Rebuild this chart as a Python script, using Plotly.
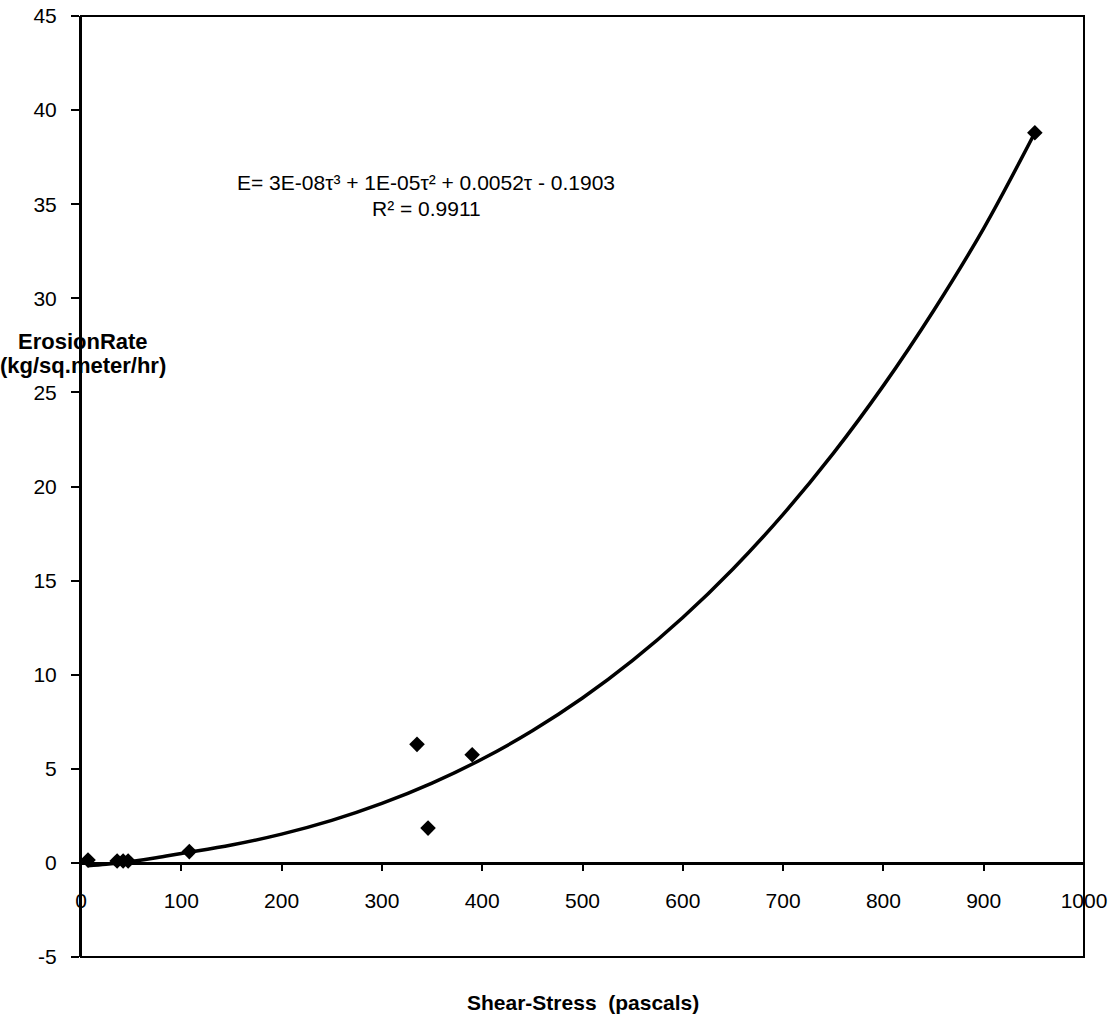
import plotly.graph_objects as go

# Measured data (shear stress in pascals, erosion rate in kg/m^2/hr)
shear_stress = [7, 36, 42, 47, 108, 335, 346, 390, 951]
erosion_rate = [0.15, 0.1, 0.1, 0.1, 0.6, 6.3, 1.85, 5.75, 38.8]

# Polynomial trendline
trend_tau = [7, 25, 50, 75, 100, 150, 200, 250, 300, 350, 400, 450, 500,
             550, 600, 650, 700, 750, 800, 850, 900, 951]
trend_E = [-0.15, -0.07, 0.08, 0.27, 0.5, 0.95, 1.53, 2.26, 3.16, 4.24, 5.52,
           7.02, 8.76, 10.76, 13.04, 15.62, 18.52, 21.76, 25.36, 29.34, 33.72, 38.8]

x_ticks = [0, 100, 200, 300, 400, 500, 600, 700, 800, 900, 1000]
y_ticks = [-5, 0, 5, 10, 15, 20, 25, 30, 35, 40, 45]

equation_text = "E= 3E-08τ³ + 1E-05τ² + 0.0052τ - 0.1903"
r2_text = "R² = 0.9911"
y_title_lines = ["ErosionRate", "(kg/sq.meter/hr)"]
x_title = "Shear-Stress  (pascals)"

FONT = "Liberation Sans, Arial, sans-serif"

# pixel helpers for annotation placement (plot area: x 81..1084, y 16..957)
def px_to_x(px):
    return (px - 81) / 1003 * 1000

def py_to_y(py):
    return 45 - (py - 16) / 941 * 50

fig = go.Figure()
fig.add_trace(go.Scatter(
    x=trend_tau, y=trend_E, mode="lines", line_shape="spline",
    line=dict(color="black", width=3.5), hoverinfo="skip", showlegend=False))
fig.add_trace(go.Scatter(
    x=shear_stress, y=erosion_rate, mode="markers",
    marker=dict(symbol="diamond", size=12, color="black"), showlegend=False))

fig.update_layout(
    width=1119, height=1020,
    margin=dict(l=81, r=35, t=16, b=63),
    paper_bgcolor="white", plot_bgcolor="white",
    font=dict(family=FONT, size=21, color="black"),
    xaxis=dict(range=[0, 1000], tickvals=x_ticks, ticktext=[str(v) for v in x_ticks],
               showgrid=False, zeroline=False, showline=True, linecolor="black",
               linewidth=3, ticks="outside", ticklen=6, tickwidth=1.5, tickcolor="black",
               anchor="free", position=0.1, ticklabelstandoff=12, automargin=False,
               tickfont=dict(size=21, family=FONT)),
    yaxis=dict(range=[-5, 45], tickvals=y_ticks, ticktext=[str(v) for v in y_ticks],
               showgrid=False, zeroline=False, showline=True, linecolor="black",
               linewidth=2, ticks="outside", ticklen=8, tickwidth=2, tickcolor="black",
               ticklabelstandoff=10, automargin=False,
               tickfont=dict(size=21, family=FONT)),
)

# plot border box
fig.add_shape(type="rect", xref="paper", yref="paper", x0=0, x1=1, y0=0, y1=1,
              line=dict(color="black", width=2), layer="above")

fig.add_annotation(x=px_to_x(426), y=py_to_y(182), xref="x", yref="y", text=equation_text,
                   showarrow=False, font=dict(size=21, family=FONT), xanchor="center",
                   yanchor="middle")
fig.add_annotation(x=px_to_x(426), y=py_to_y(208), xref="x", yref="y",
                   text=r2_text, showarrow=False, font=dict(size=21, family=FONT),
                   xanchor="center", yanchor="middle")

fig.add_annotation(x=0.002, y=py_to_y(341), xref="paper", yref="y",
                   text="<b>" + y_title_lines[0] + "</b>", showarrow=False,
                   font=dict(size=22, family=FONT), xanchor="center", yanchor="middle")
fig.add_annotation(x=0.002, y=py_to_y(365), xref="paper", yref="y",
                   text="<b>" + y_title_lines[1] + "</b>", showarrow=False,
                   font=dict(size=22, family=FONT), xanchor="center", yanchor="middle")

fig.add_annotation(x=0.5, y=(1020 - 63 - 1002) / (1020 - 63 - 16), xref="paper", yref="paper",
                   text="<b>" + x_title + "</b>", showarrow=False,
                   font=dict(size=21, family=FONT), yanchor="middle")

fig.write_html("out.html")
